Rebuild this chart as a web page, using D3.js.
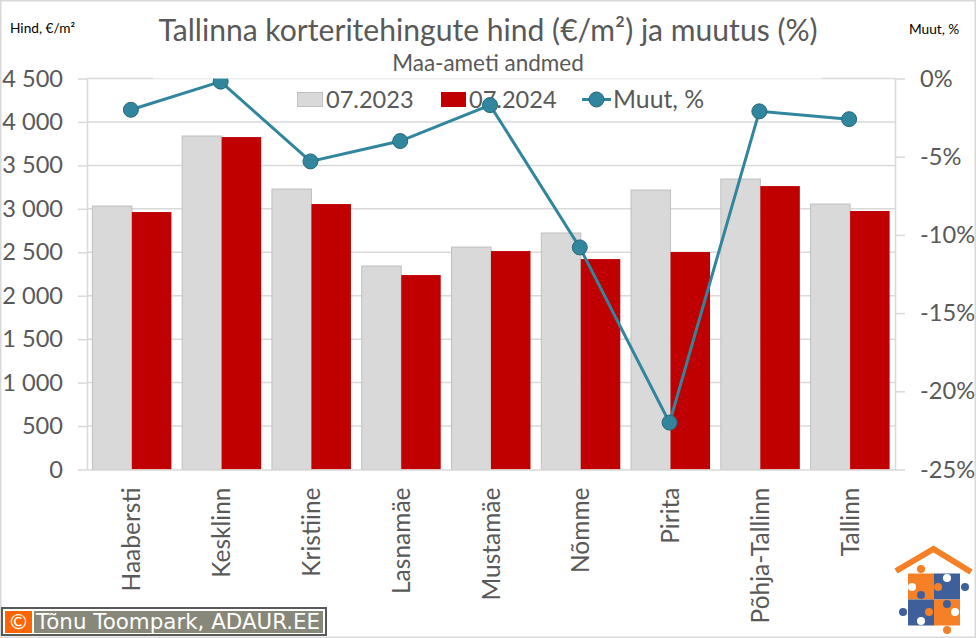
<!DOCTYPE html>
<html>
<head>
<meta charset="utf-8">
<script src="https://cdn.jsdelivr.net/npm/d3@7"></script>
<style>
html, body { margin: 0; padding: 0; background: #fff; }
svg { display: block; }
text { font-family: Lato, "Open Sans", sans-serif; fill: #595959; }
.axis path, .axis line { stroke: #d9d9d9; stroke-width: 1.5; }
.axis text { font-family: Lato, "Open Sans", sans-serif; font-size: 23.6px; fill: #595959; }
.grid line { stroke: #d9d9d9; stroke-width: 1.5; }
</style>
</head>
<body>
<svg id="chart" width="976" height="638"></svg>
<script>
const categories = ['Haabersti', 'Kesklinn', 'Kristiine', 'Lasnamäe', 'Mustamäe', 'Nõmme', 'Pirita', 'Põhja-Tallinn', 'Tallinn'];
const price2023 = [3032, 3838, 3228, 2342, 2560, 2722, 3216, 3343, 3055];
const price2024 = [2963, 3826, 3055, 2238, 2514, 2422, 2503, 3262, 2975];
const change = [-2.0, -0.2, -5.3, -4.0, -1.7, -10.8, -22.0, -2.1, -2.6];
const priceTicks = [0, 500, 1000, 1500, 2000, 2500, 3000, 3500, 4000, 4500];
const changeTicks = [0, -5, -10, -15, -20, -25];

const $svg = d3.select('#chart');
const plotLeft = 87, plotRight = 895, plotTop = 78.5, plotBottom = 469.5;

const x = d3.scaleBand().domain(categories).range([plotLeft, plotRight]);
const xBar = d3.scaleBand().domain(['a', 'b']).range([0, 79]);
const barPad = (x.bandwidth() - 79) / 2;
const yPrice = d3.scaleLinear().domain([0, 4500]).range([plotBottom, plotTop]);
const yChange = d3.scaleLinear().domain([-25, 0]).range([plotBottom, plotTop]);

const fmtPrice = d => d3.format(',')(d).replace(',', ' ');
const xMid = (d, i) => x(categories[i]) + x.bandwidth() / 2 - 1;

// outer frame
$svg.append('rect').attr('x', 0.75).attr('y', 0.75).attr('width', 974.5).attr('height', 636.5)
	.attr('fill', '#fff').attr('stroke', '#d9d9d9').attr('stroke-width', 1.5);

// gridlines
$svg.append('g').attr('class', 'grid')
	.selectAll('line').data(priceTicks.filter(d => d > 0)).join('line')
	.attr('x1', plotLeft).attr('x2', plotRight)
	.attr('y1', d => yPrice(d)).attr('y2', d => yPrice(d));

// bars
const $bars = $svg.append('g').selectAll('g').data(categories).join('g')
	.attr('transform', d => `translate(${x(d) + barPad},0)`);

$bars.append('rect')
	.attr('x', xBar('a'))
	.attr('y', (d, i) => yPrice(price2023[i]))
	.attr('width', xBar.bandwidth())
	.attr('height', (d, i) => plotBottom - yPrice(price2023[i]))
	.attr('fill', '#d9d9d9').attr('stroke', '#bfbfbf').attr('stroke-width', 1);

$bars.append('rect')
	.attr('x', xBar('b'))
	.attr('y', (d, i) => yPrice(price2024[i]))
	.attr('width', xBar.bandwidth())
	.attr('height', (d, i) => plotBottom - yPrice(price2024[i]))
	.attr('fill', '#c00000');

// axes
$svg.append('g').attr('class', 'axis').attr('transform', `translate(${plotLeft},0)`)
	.call(d3.axisLeft(yPrice).tickValues(priceTicks).tickFormat(fmtPrice).tickSizeInner(9).tickSizeOuter(0).tickPadding(15));
$svg.append('g').attr('class', 'axis').attr('transform', `translate(${plotRight},0)`)
	.call(d3.axisRight(yChange).tickValues(changeTicks).tickFormat(d => d + '%').tickSizeInner(10).tickSizeOuter(0).tickPadding(15));
const $bottom = $svg.append('g').attr('class', 'axis').attr('transform', `translate(0,${plotBottom})`)
	.call(d3.axisBottom(x).tickSize(0).tickPadding(0));

$bottom.selectAll('text')
	.attr('y', 0)
	.attr('text-anchor', 'end')
	.attr('dy', '0.35em')
	.style('font-size', '24.5px')
	.attr('transform', 'translate(0,18) rotate(-90)');

// legend, the Mustamäe marker sits on top of it
const $legend = $svg.append('g');
$legend.append('rect').attr('x', 297.5).attr('y', 92.5).attr('width', 25).attr('height', 14)
	.attr('fill', '#d9d9d9').attr('stroke', '#bfbfbf');
$legend.append('text').attr('x', 326).attr('y', 108).style('font-size', '23.6px').text('07.2023');
$legend.append('rect').attr('x', 441).attr('y', 92).attr('width', 25).attr('height', 15).attr('fill', '#c00000');
$legend.append('text').attr('x', 469).attr('y', 108).style('font-size', '23.6px').text('07.2024');
$legend.append('line').attr('x1', 582).attr('x2', 611).attr('y1', 99.5).attr('y2', 99.5)
	.attr('stroke', '#31859c').attr('stroke-width', 3);
$legend.append('circle').attr('cx', 596.5).attr('cy', 99.5).attr('r', 7.5)
	.attr('fill', '#31859c').attr('stroke', '#276a7c');
$legend.append('text').attr('x', 613).attr('y', 108).style('font-size', '24.8px').text('Muut, %');

// change line
const line = d3.line().x(xMid).y(d => yChange(d));
const $line = $svg.append('g');
$line.append('path').datum(change)
	.attr('d', line).attr('fill', 'none')
	.attr('stroke', '#31859c').attr('stroke-width', 3);
$line.selectAll('circle').data(change).join('circle')
	.attr('cx', xMid)
	.attr('cy', d => yChange(d))
	.attr('r', 7.5)
	.attr('fill', '#31859c').attr('stroke', '#276a7c');

// white box behind subtitle hides top gridline and clips the marker
$svg.append('rect').attr('x', 153).attr('y', 50).attr('width', 669).attr('height', 28.5).attr('fill', '#fff');

// titles
$svg.append('text').attr('x', 488).attr('y', 41).attr('text-anchor', 'middle')
	.style('font-size', '30.1px').text('Tallinna korteritehingute hind (€/m²) ja muutus (%)');
$svg.append('text').attr('x', 488).attr('y', 71).attr('text-anchor', 'middle')
	.style('font-size', '22.5px').text('Maa-ameti andmed');
$svg.append('text').attr('x', 10).attr('y', 33).style('font-size', '13.7px').style('fill', '#000').text('Hind, €/m²');
$svg.append('text').attr('x', 909).attr('y', 34).style('font-size', '13.7px').style('fill', '#000').text('Muut, %');

// copyright badge
const $badge = $svg.append('g');
$badge.append('rect').attr('x', 2).attr('y', 608).attr('width', 324).attr('height', 27)
	.attr('fill', '#fff').attr('stroke', '#595959').attr('stroke-width', 2);
$badge.append('rect').attr('x', 5).attr('y', 611).attr('width', 27).attr('height', 22).attr('fill', '#ff6600');
$badge.append('rect').attr('x', 34).attr('y', 611).attr('width', 289).attr('height', 22).attr('fill', '#87877a');
$badge.append('text').attr('x', 18.5).attr('y', 629).attr('text-anchor', 'middle')
	.style('font-family', 'DejaVu Sans').style('font-size', '21px').style('fill', '#fff').text('©');
$badge.append('text').attr('x', 36).attr('y', 629)
	.style('font-family', 'DejaVu Sans').style('font-size', '21.4px').style('fill', '#fff').text('Tõnu Toompark, ADAUR.EE');

// logo
const orange = '#f58025', blue = '#3f5f9b';
const $logo = $svg.append('g');
$logo.append('polyline').attr('points', '896,571 933.5,549 971,572')
	.attr('fill', 'none').attr('stroke', orange).attr('stroke-width', 6);
[[908, 573.5, orange], [934, 573.5, blue], [908, 599.5, blue], [934, 599.5, orange]].forEach(p => {
	$logo.append('rect').attr('x', p[0]).attr('y', p[1]).attr('width', 26).attr('height', 26).attr('fill', p[2]);
});
[[921, 569, orange], [947, 578, '#fff'], [912, 587, '#fff'], [938, 587, orange], [965, 587, blue],
	[921, 595, blue], [947, 604, blue], [903, 612, blue], [929, 612, orange], [955, 612, '#fff'],
	[921, 621, '#fff'], [947, 630, orange]].forEach(c => {
	$logo.append('circle').attr('cx', c[0]).attr('cy', c[1]).attr('r', 4).attr('fill', c[2]);
});
</script>
</body>
</html>
